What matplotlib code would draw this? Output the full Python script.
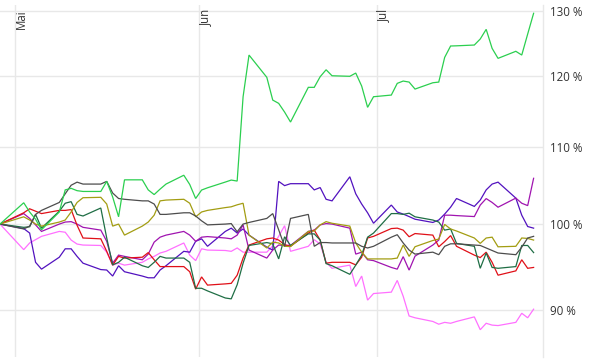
import matplotlib
matplotlib.use("Agg")
import matplotlib.pyplot as plt
import matplotlib.transforms as mtransforms
from matplotlib.ticker import NullLocator
import numpy as np
import pandas as pd

plt.rcParams['font.family'] = ['Open Sans', 'DejaVu Sans']

# Trading days (2017)
dates = [
    "2017-04-28",
    "2017-05-02", "2017-05-03", "2017-05-04", "2017-05-05",
    "2017-05-08", "2017-05-09", "2017-05-10", "2017-05-11", "2017-05-12",
    "2017-05-15", "2017-05-16", "2017-05-17", "2017-05-18", "2017-05-19",
    "2017-05-22", "2017-05-23", "2017-05-24", "2017-05-25", "2017-05-26",
    "2017-05-29", "2017-05-30", "2017-05-31", "2017-06-01", "2017-06-02",
    "2017-06-05", "2017-06-06", "2017-06-07", "2017-06-08", "2017-06-09",
    "2017-06-12", "2017-06-13", "2017-06-14", "2017-06-15", "2017-06-16",
    "2017-06-19", "2017-06-20", "2017-06-21", "2017-06-22", "2017-06-23",
    "2017-06-26", "2017-06-27", "2017-06-28", "2017-06-29", "2017-06-30",
    "2017-07-03", "2017-07-04", "2017-07-05", "2017-07-06", "2017-07-07",
    "2017-07-10", "2017-07-11", "2017-07-12", "2017-07-13", "2017-07-14",
    "2017-07-17", "2017-07-18", "2017-07-19", "2017-07-20", "2017-07-21",
    "2017-07-24", "2017-07-25", "2017-07-26", "2017-07-27",
]

# Series values in percent of start
green = [100,
         102.66, 101.5, 100.6, 99.3,
         101.5, 104.3, 104.5, 104.2, 104.1,
         104.1, 105.4, 103.4, 100.9, 105.6,
         105.6, 104.3, 103.7, 104.4, 105.05,
         106.2, 105.0, 103.2, 104.28, 104.57,
         105.31, 105.57, 105.44, 116.98, 123.14,
         119.81, 116.5, 116.03, 114.79, 113.39,
         118.34, 118.34, 119.9, 120.93, 120.04,
         119.96, 120.44, 118.53, 115.46, 116.98,
         117.22, 118.92, 119.26, 119.11, 118.09,
         119.01, 119.11, 122.79, 124.52, 124.55,
         124.67, 125.6, 127.1, 124.16, 122.64,
         123.71, 123.14, 126.37, 129.64]

gray = [100,
        99.4, 99.75, 101.2, 101.7,
        102.7, 103.8, 104.9, 105.3, 105.05,
        105.05, 105.4, 103.9, 103.2, 103.1,
        102.9, 102.9, 102.5, 101.2, 101.2,
        101.4, 101.4, 101.0, 100.4, 99.9,
        100.0, 100.06, 99.05, 100.0, 100.2,
        100.7, 101.3, 99.3, 97.3, 100.7,
        101.2, 97.3, 97.75, 97.75, 97.7,
        97.7, 97.7, 97.3, 97.1, 97.3,
        98.4, 98.7, 97.7, 96.85, 96.37,
        96.6, 96.3, 97.3, 97.6, 97.6,
        97.45, 97.4, 97.1, 96.8, 96.5,
        96.3, 97.2, 98.3, 98.5]

olive = [100,
         100.9, 100.5, 100.0, 99.75,
         100.25, 100.5, 101.5, 102.7, 103.3,
         103.35, 102.5, 99.75, 100.0, 98.65,
         99.75, 100.25, 101.1, 102.9, 103.0,
         103.1, 102.6, 100.9, 101.5, 101.7,
         102.05, 102.15, 102.4, 102.6, 98.65,
         97.1, 97.8, 97.7, 97.3, 97.27,
         99.1, 99.15, 99.9, 100.3, 100.1,
         99.75, 97.7, 96.6, 95.8, 95.8,
         95.8, 95.9, 97.45, 96.1, 97.25,
         98.0, 98.17, 99.96, 99.4, 99.15,
         98.3, 97.65, 98.3, 98.4, 97.24,
         97.3, 98.3, 98.25, 98.05]

darkgreen = [100,
             99.6, 99.67, 101.2, 99.5,
             101.6, 102.6, 102.8, 101.2, 101.0,
             102.0, 98.3, 95.1, 95.4, 96.0,
             95.0, 94.8, 95.4, 96.1, 95.9,
             95.9, 95.4, 92.4, 92.4, 92.1,
             91.3, 91.2, 92.8, 95.3, 97.4,
             97.75, 97.6, 95.8, 98.45, 97.4,
             98.8, 98.8, 98.05, 95.25, 95.0,
             94.0, 95.07, 96.25, 98.4, 98.9,
             101.3, 101.3, 101.2, 101.35, 100.9,
             100.5, 100.25, 99.26, 99.4, 97.65,
             97.3, 94.7, 96.5, 94.8, 94.7,
             94.9, 97.4, 97.4, 96.55]

red = [100,
       101.4, 101.9, 101.6, 101.3,
       101.7, 101.7, 101.8, 99.85, 98.3,
       98.2, 96.7, 95.07, 96.1, 95.9,
       96.0, 96.55, 95.7, 94.9, 94.9,
       94.9, 94.3, 92.3, 93.7, 92.76,
       92.9, 92.96, 93.9, 95.9, 97.45,
       98.2, 98.3, 98.05, 97.5, 97.3,
       98.9, 99.26, 98.05, 95.3, 95.4,
       95.4, 95.1, 96.0, 98.3, 98.5,
       99.45, 99.5, 99.26, 98.45, 98.84,
       98.65, 97.24, 97.87, 98.59, 97.3,
       96.25, 95.96, 96.6, 95.4, 93.9,
       94.4, 95.7, 94.7, 94.8]

purple = [100,
          101.3, 100.7, 99.9, 99.1,
          100.0, 100.25, 100.3, 100.0, 99.6,
          99.26, 97.9, 95.3, 96.25, 96.1,
          95.7, 96.37, 97.8, 98.4, 98.65,
          99.1, 98.65, 97.9, 98.4, 98.47,
          98.3, 98.2, 98.65, 99.9, 96.85,
          95.9, 96.85, 97.45, 97.4, 97.4,
          99.1, 99.26, 99.9, 100.06, 100.0,
          99.5, 96.37, 96.6, 95.7, 95.6,
          94.8, 94.6, 96.07, 94.49, 96.13,
          97.45, 98.05, 101.1, 101.1, 101.05,
          100.93, 102.37, 103.19, 102.7, 102.1,
          103.25, 102.6, 102.3, 105.8]

indigo = [100,
          99.45, 98.9, 95.4, 94.6,
          96.0, 97.0, 97.0, 96.1, 95.3,
          94.55, 94.5, 93.8, 95.0, 94.3,
          93.8, 93.6, 93.6, 94.5, 95.0,
          96.7, 96.6, 97.9, 98.2, 97.3,
          99.1, 99.5, 98.9, 99.4, 98.65,
          97.2, 96.85, 105.4, 104.85, 105.1,
          105.1, 104.3, 104.6, 103.1, 102.9,
          106.0, 103.8, 102.5, 101.4, 100.1,
          102.37, 101.5, 101.24, 100.93, 100.6,
          100.2, 100.5, 101.24, 102.1, 103.2,
          102.2, 103.0, 104.3, 105.05, 105.3,
          103.25, 101.1, 99.7, 99.5]

pink = [100,
        96.9, 97.7, 98.1, 98.5,
        99.1, 99.0, 98.05, 97.57, 97.45,
        97.4, 96.6, 95.07, 95.3, 95.07,
        95.4, 95.8, 96.1, 96.5, 96.7,
        97.7, 96.25, 95.6, 97.0, 96.85,
        96.8, 96.7, 97.1, 96.6, 96.6,
        96.6, 97.35, 98.5, 99.8, 96.7,
        97.3, 98.1, 97.57, 95.4, 94.7,
        95.07, 92.6, 93.8, 91.06, 91.8,
        91.96, 93.3, 91.5, 89.3, 89.1,
        88.7, 88.4, 88.6, 88.5, 88.7,
        89.2, 87.8, 88.5, 88.3, 88.25,
        88.6, 89.6, 89.1, 90.05]

month_starts = ["2017-05-01", "2017-06-01", "2017-07-01"]
month_labels = ["Mai", "Jun", "Jul"]
ytick_values = [0.9, 1.0, 1.1, 1.2, 1.3]
ytick_labels = ["90 %", "100 %", "110 %", "120 %", "130 %"]

series = [
    (pink, "#ff70ff"),
    (indigo, "#5212bf"),
    (purple, "#a014b0"),
    (red, "#e01018"),
    (darkgreen, "#1f6e45"),
    (olive, "#a39d12"),
    (gray, "#4d4d4d"),
    (green, "#2bcf4f"),
]

W, H = 590, 362
fig = plt.figure(figsize=(W / 100, H / 100), dpi=100)
ax = fig.add_axes([0, 5 / H, 543 / W, 352 / H])

x = pd.to_datetime(dates) + pd.Timedelta(hours=10)
for vals, color in series:
    ax.plot(x, np.array(vals) / 100.0, color=color, lw=0.9, solid_joinstyle='miter')

ax.set_yscale('log')
ax.set_ylim(0.849, 1.3097)
ax.set_xlim(x[0], pd.Timestamp("2017-07-29"))

ax.set_yticks(ytick_values)
ax.set_yticklabels(ytick_labels)
ax.yaxis.set_minor_locator(NullLocator())
ax.yaxis.tick_right()
ax.tick_params(axis='y', length=0, pad=5, labelsize=8.3, labelcolor='#333333')

ms = pd.to_datetime(month_starts)
ax.set_xticks(ms)
ax.set_xticklabels([])
ax.xaxis.set_minor_locator(NullLocator())
ax.tick_params(axis='x', length=0)

ax.set_axisbelow(True)
ax.grid(True, color='#e8e8e8', lw=1)

for s in ['left', 'top', 'bottom']:
    ax.spines[s].set_visible(False)
ax.spines['right'].set_color('#e8e8e8')
ax.spines['right'].set_linewidth(1)

trans = mtransforms.blended_transform_factory(ax.transData, ax.transAxes)
for d, lab in zip(ms, month_labels):
    ax.text(d, 1 - 4 / 352, lab, transform=trans, rotation=90,
            ha='left', va='top', fontsize=8.3, color='#333333')

fig.savefig("out.png", dpi=100)
